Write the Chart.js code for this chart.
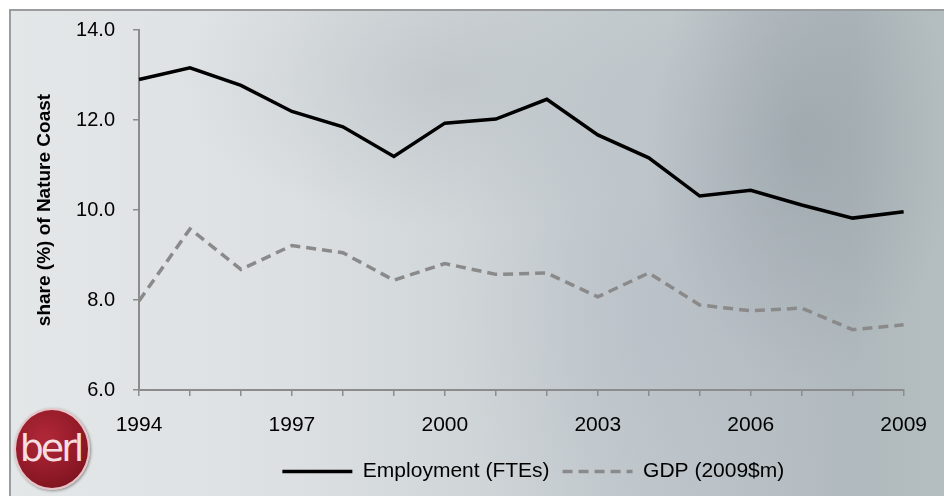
<!DOCTYPE html>
<html>
<head>
<meta charset="utf-8">
<script src="https://cdn.jsdelivr.net/npm/chart.js@4"></script>
<style>
  html, body { margin: 0; padding: 0; background: #ffffff; }
  #wrap {
    position: relative; width: 944px; height: 496px; overflow: hidden;
  }
  #frame {
    position: absolute; left: 9px; top: 9px; width: 935px; height: 487px;
    border-top: 2px solid #9a9c9e; border-left: 2px solid #9a9c9e; box-sizing: border-box;
    background:
      radial-gradient(ellipse 150px 240px at 790px 130px, rgba(135,146,152,0.45), rgba(135,146,152,0) 100%),
      radial-gradient(ellipse 260px 150px at 430px 70px, rgba(165,173,180,0.35), rgba(165,173,180,0) 100%),
      radial-gradient(ellipse 200px 300px at 640px 300px, rgba(170,178,190,0.35), rgba(170,178,190,0) 100%),
      linear-gradient(to right, #e4e7e8 0%, #dce0e2 30%, #ccd2d5 55%, #bdc5c9 75%, #b0b9bd 90%, #b4bec0 100%);
  }
  #logo {
    position: absolute; left: 14px; top: 408px; width: 76px; height: 82px; border-radius: 50%;
    background: radial-gradient(circle at 40% 35%, #b02838 0%, #921a28 55%, #6e0f19 100%);
    border: 2px solid #e6c4c8; box-sizing: border-box;
    box-shadow: 1px 1px 3px rgba(0,0,0,0.4);
    color: #f6dde0; font: 38px "DejaVu Sans", "Liberation Sans", sans-serif; letter-spacing: -3px;
    text-align: center; line-height: 76px; text-indent: -3px;
  }
  canvas { position: absolute; left: 0; top: 0; }
</style>
</head>
<body>
<div id="wrap">
  <div id="frame"></div>
  <div id="logo">berl</div>
  <canvas id="myChart" width="944" height="496"></canvas>
</div>
<script>
const years = ['1994', '1995', '1996', '1997', '1998', '1999', '2000', '2001',
               '2002', '2003', '2004', '2005', '2006', '2007', '2008', '2009'];
const employment = [12.90, 13.16, 12.77, 12.19, 11.85, 11.19, 11.93, 12.02,
                    12.46, 11.67, 11.16, 10.31, 10.44, 10.11, 9.82, 9.96];
const gdp = [7.98, 9.58, 8.68, 9.21, 9.05, 8.44, 8.81, 8.57,
             8.60, 8.07, 8.60, 7.89, 7.76, 7.82, 7.34, 7.45];
const yTicks = [6, 8, 10, 12, 14];

const font = "'Liberation Sans', Arial, sans-serif";

const data = {
    labels: years,
    datasets: [
        {
            label: 'Employment (FTEs)',
            data: employment,
            borderColor: '#000000',
            backgroundColor: '#000000',
            borderWidth: 3.5,
            pointRadius: 0,
            tension: 0
        },
        {
            label: 'GDP (2009$m)',
            data: gdp,
            borderColor: '#8a8a8a',
            backgroundColor: '#8a8a8a',
            borderWidth: 3.5,
            borderDash: [10, 6],
            pointRadius: 0,
            tension: 0
        }
    ]
};

// nudge the legend a little to the right, like the original
const legendShift = {
    id: 'legendShift',
    afterLayout(chart) {
        chart.legend.left += 12;
        chart.legend.right += 12;
    }
};

const config = {
    type: 'line',
    data: data,
    plugins: [legendShift],
    options: {
        responsive: false,
        animation: false,
        layout: { padding: { left: 0, top: 30, right: 36, bottom: 4 } },
        scales: {
            x: {
                offset: false,
                afterFit: (scale) => { scale.height = 58; },
                grid: { drawOnChartArea: false, color: '#8c8c8c', tickLength: 6, lineWidth: 1.5 },
                border: { color: '#8c8c8c', width: 2 },
                ticks: {
                    autoSkip: false, maxRotation: 0, padding: 17, color: '#000000',
                    font: { family: font, size: 21 },
                    callback: function (value, index) {
                        return index % 3 === 0 ? years[index] : '';
                    }
                }
            },
            y: {
                min: 6, max: 14,
                afterFit: (scale) => { scale.width = 139; },
                afterBuildTicks: (scale) => { scale.ticks = yTicks.map(v => ({ value: v })); },
                grid: { drawOnChartArea: false, color: '#8c8c8c', tickLength: 6, lineWidth: 1.5 },
                border: { color: '#8c8c8c', width: 2 },
                ticks: {
                    padding: 18, color: '#000000',
                    font: { family: font, size: 20 },
                    callback: (v) => Number(v).toFixed(1)
                },
                title: {
                    display: true, text: 'share (%) of Nature Coast', color: '#000000',
                    font: { family: font, size: 19, weight: 'bold' },
                    padding: { top: 33, bottom: 0 }
                }
            }
        },
        plugins: {
            legend: {
                position: 'bottom',
                fullSize: false,
                labels: {
                    usePointStyle: true,
                    pointStyle: 'line',
                    pointStyleWidth: 70,
                    color: '#000000',
                    padding: 13,
                    font: { family: font, size: 21 },
                    generateLabels: function (chart) {
                        const items = Chart.defaults.plugins.legend.labels.generateLabels(chart);
                        items.forEach(item => {
                            const ds = chart.data.datasets[item.datasetIndex];
                            item.lineDash = ds.borderDash || [];
                            item.lineWidth = ds.borderWidth;
                            item.strokeStyle = ds.borderColor;
                            item.pointStyle = 'line';
                        });
                        return items;
                    }
                }
            },
            tooltip: { enabled: false }
        }
    }
};

const myChart = new Chart(document.getElementById('myChart').getContext('2d'), config);
</script>
</body>
</html>
